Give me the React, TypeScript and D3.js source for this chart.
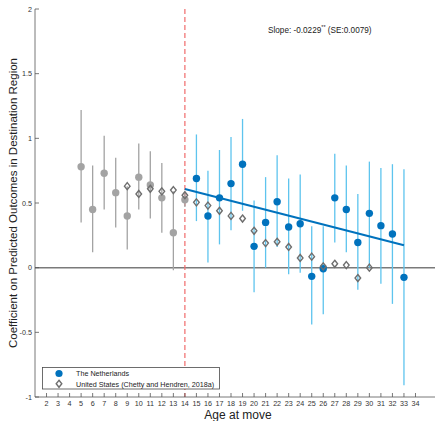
import * as d3 from "d3";

// Netherlands estimates by age at move (gray before the cutoff, blue after)
const nlAges = [5, 6, 7, 8, 9, 10, 11, 12, 13, 14, 15, 16, 17, 18, 19, 20, 21, 22, 23, 24, 25, 26, 27, 28, 29, 30, 31, 32, 33];
const nlCoef = [0.78, 0.45, 0.73, 0.58, 0.40, 0.70, 0.64, 0.54, 0.27, 0.525, 0.69, 0.40, 0.54, 0.65, 0.80, 0.165, 0.35, 0.51, 0.315, 0.34, -0.067, -0.008, 0.54, 0.45, 0.195, 0.42, 0.325, 0.26, -0.075];
const nlLow = [0.35, 0.12, 0.45, 0.31, 0.14, 0.45, 0.38, 0.27, -0.02, 0.47, 0.36, 0.04, 0.18, 0.29, 0.44, -0.19, 0.0, 0.16, -0.05, -0.04, -0.44, -0.36, 0.195, 0.12, -0.17, 0.0, -0.125, -0.28, -0.91];
const nlHigh = [1.22, 0.79, 1.02, 0.85, 0.63, 0.96, 0.90, 0.81, 0.59, 0.58, 1.03, 0.75, 0.91, 1.01, 1.15, 0.52, 0.70, 0.87, 0.69, 0.72, 0.32, 0.32, 0.88, 0.79, 0.57, 0.82, 0.77, 0.80, 0.76];

// United States (Chetty and Hendren, 2018a)
const usAges = [9, 10, 11, 12, 13, 14, 15, 16, 17, 18, 19, 20, 21, 22, 23, 24, 25, 26, 27, 28, 29, 30];
const usCoef = [0.63, 0.57, 0.61, 0.59, 0.60, 0.56, 0.505, 0.48, 0.44, 0.40, 0.38, 0.285, 0.19, 0.20, 0.16, 0.075, 0.085, 0.01, 0.03, 0.02, -0.08, 0.0];

const cutoffAge = 14;
const fitAges = [14, 33];
const fitStart = 0.608;
const fitSlope = -0.0229;

const xTicks = d3.range(2, 35);
const yTicks = [-1, -0.5, 0, 0.5, 1, 1.5, 2];
const legendLabels = ["The Netherlands", "United States (Chetty and Hendren, 2018a)"];

const BLUE = "#0072bd";
const LIGHTBLUE = "#5ec4ee";
const GRAY = "#a3a3a3";
const DIAMOND = "#6e6e6e";
const FONT = "'Liberation Sans', Arial, sans-serif";

const diamond = (cx: number, cy: number, r: number) =>
  `M${cx},${cy - r}L${cx + r * 0.8},${cy}L${cx},${cy + r}L${cx - r * 0.8},${cy}Z`;

export default function App() {
  const width = 435;
  const height = 421;
  const left = 35;
  const top = 9;
  const bottom = 397;

  const x = d3.scaleLinear().domain([1, 36]).range([left, left + 35 * 11.53]);
  const y = d3.scaleLinear().domain([-1, 2]).range([bottom, top]);

  const nl = nlAges.map((a, i) => ({ age: a, c: nlCoef[i], lo: nlLow[i], hi: nlHigh[i] }));
  const us = usAges.map((a, i) => ({ age: a, c: usCoef[i] }));
  const fitLine = d3.line<number>().x((a) => x(a)).y((a) => y(fitStart + fitSlope * (a - fitAges[0])));

  return (
    <svg width={width} height={height} style={{ position: "absolute", left: 0, top: 0, fontFamily: FONT }}>
      <rect width={width} height={height} fill="#fff" />

      {/* zero line */}
      <line x1={left} x2={width} y1={y(0)} y2={y(0)} stroke="#7a7a7a" strokeWidth={1.5} />

      {/* cutoff */}
      <line x1={x(cutoffAge)} x2={x(cutoffAge)} y1={top} y2={bottom} stroke="#f06b6b" strokeWidth={1.2} strokeDasharray="5,3" />

      {/* error bars */}
      {nl.map((d) => (
        <line key={"ci" + d.age} x1={x(d.age)} x2={x(d.age)} y1={y(d.lo)} y2={y(d.hi)}
          stroke={d.age <= cutoffAge ? GRAY : LIGHTBLUE} strokeWidth={1.3} />
      ))}

      {/* fitted slope */}
      <path d={fitLine(fitAges) || ""} fill="none" stroke={BLUE} strokeWidth={2} />

      {/* points */}
      {nl.map((d) => (
        <circle key={"pt" + d.age} cx={x(d.age)} cy={y(d.c)} r={3.7} fill={d.age <= cutoffAge ? GRAY : BLUE} />
      ))}
      {us.map((d) => (
        <path key={"us" + d.age} d={diamond(x(d.age), y(d.c), 3.5)} fill="none" stroke={DIAMOND} strokeWidth={1.4} />
      ))}

      {/* legend */}
      <rect x={42.5} y={367.5} width={177} height={21.5} fill="#fff" stroke="#4a4a4a" strokeWidth={0.8} />
      <circle cx={59} cy={373.5} r={3.6} fill={BLUE} />
      <path d={diamond(59, 383.8, 3.5)} fill="none" stroke={DIAMOND} strokeWidth={1.4} />
      {legendLabels.map((t, i) => (
        <text key={t} x={76} y={376 + i * 10.5} fontSize={7.2} fill="#222">{t}</text>
      ))}

      {/* axes */}
      <line x1={left} x2={left} y1={top} y2={bottom} stroke="#555" strokeWidth={0.8} />
      <line x1={left} x2={width} y1={bottom} y2={bottom} stroke="#555" strokeWidth={0.8} />
      {yTicks.map((t) => (
        <g key={"y" + t}>
          <line x1={left} x2={left + 4} y1={y(t)} y2={y(t)} stroke="#555" strokeWidth={0.8} />
          <text x={left - 3} y={y(t)} dy="0.35em" textAnchor="end" fontSize={7.2} fill="#333">{t}</text>
        </g>
      ))}
      {xTicks.map((t) => (
        <g key={"x" + t}>
          <line x1={x(t)} x2={x(t)} y1={bottom} y2={bottom - 4} stroke="#555" strokeWidth={0.8} />
          <text x={x(t)} y={bottom + 9} textAnchor="middle" fontSize={7.2} fill="#333">{t}</text>
        </g>
      ))}

      {/* labels */}
      <text transform={`translate(17,${(top + bottom) / 2}) rotate(-90)`} textAnchor="middle" fontSize={11.5} fill="#222">
        Coefficient on Predicted Outcomes in Destination Region
      </text>
      <text x={238} y={419} textAnchor="middle" fontSize={12} fill="#222">Age at move</text>
      <text x={268} y={33} fontSize={8.2} fill="#222">
        Slope: -0.0229<tspan fontSize={5.5} dy={-4}>**</tspan><tspan dy={4}> (SE:0.0079)</tspan>
      </text>
    </svg>
  );
}
